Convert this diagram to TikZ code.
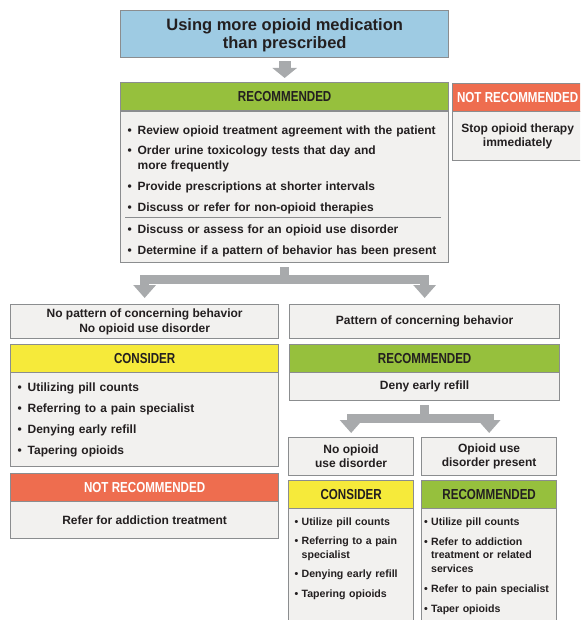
\documentclass[tikz,border=0pt]{standalone}
\usepackage{fontspec}
\setmainfont{Liberation Sans}
\newfontfamily\headfont[FakeStretch=0.8]{Liberation Sans}
\usetikzlibrary{
    arrows.meta,
    calc
}
\definecolor{titleblue}{HTML}{9ECBE3}
\definecolor{recgreen}{HTML}{96C03D}
\definecolor{notred}{HTML}{EE6D4F}
\definecolor{conyellow}{HTML}{F6EA3A}
\definecolor{bodygray}{HTML}{F2F1EF}
\definecolor{edgegray}{HTML}{8B8D8F}
\definecolor{arrowgray}{HTML}{A8AAAC}
\definecolor{ink}{HTML}{231F20}
\newcommand{\bul}[1][10pt]{\makebox[#1][l]{\textbullet}}
\newcommand{\cnt}[1][10pt]{\hspace*{#1}}
\hyphenpenalty=10000
\exhyphenpenalty=10000

\begin{document}
\begin{tikzpicture}[x=1pt, y=-1pt,
    box/.style={draw=edgegray, line width=1.3pt, anchor=north west, inner sep=0pt, text=ink},
    head/.style={box, minimum height=28pt, font=\headfont\bfseries\fontsize{14.5}{16}\selectfont},
    cond/.style={box, fill=bodygray, align=center, font=\bfseries\fontsize{12}{15}\selectfont},
    list/.style={box, fill=bodygray, align=left, inner xsep=7pt, font=\bfseries\fontsize{12}{15}\selectfont},
    smalllist/.style={list, inner ysep=9pt, font=\bfseries\fontsize{10.6}{13.5}\selectfont},
    bigarrow/.style={draw=arrowgray, line width=9pt, shorten <=4pt, -{Triangle[width=22pt,length=13pt]}}
    ]
    \useasboundingbox (0,0) rectangle (580,620);
    \clip (0,0) rectangle (580,620);

    % top of the chart
    \node[box, fill=titleblue, minimum width=328pt, minimum height=47pt, align=center,
        font=\bfseries\fontsize{16.5}{18}\selectfont] (use) at (120,10) {\rule{0pt}{15pt}Using more opioid medication\\than prescribed};
    \node[head, fill=recgreen, minimum width=328pt] (rec) at (120,82) {RECOMMENDED};
    \node[list, text width=314pt, minimum height=151pt] (recb) at (120,111) {\rule{0pt}{17pt}\bul Review opioid treatment agreement with the patient\\[5.8pt]
        \bul Order urine toxicology tests that day and\\ \cnt more frequently\\[5.8pt]
        \bul Provide prescriptions at shorter intervals\\[5.8pt]
        \bul Discuss or refer for non-opioid therapies\\[7.5pt]
        \bul Discuss or assess for an opioid use disorder\\[5.8pt]
        \bul Determine if a pattern of behavior has been present};
    \draw[edgegray, line width=1pt] ($(recb.north west)+(5,106.5)$) -- ($(recb.north east)+(-8,106.5)$);

    \node[head, fill=notred, text=white, minimum width=130pt] (nr) at (452,83) {NOT RECOMMENDED};
    \node[cond, minimum width=130pt, minimum height=49pt, font=\bfseries\fontsize{12}{14}\selectfont] (nrb) at (452,111) {Stop opioid therapy\\immediately};

    % left branch
    \node[cond, minimum width=268pt, minimum height=34pt] (np) at (10,304) {No pattern of concerning behavior\\No opioid use disorder};
    \node[head, fill=conyellow, minimum width=268pt] (con) at (10,344) {CONSIDER};
    \node[list, text width=254pt, minimum height=94pt] (conb) at (10,372) {\bul Utilizing pill counts\\[6pt]
        \bul Referring to a pain specialist\\[6pt]
        \bul Denying early refill\\[6pt]
        \bul Tapering opioids};
    \node[head, fill=notred, text=white, minimum width=268pt] (nr2) at (10,473) {NOT RECOMMENDED};
    \node[cond, minimum width=268pt, minimum height=37pt] (nr2b) at (10,501) {Refer for addiction treatment};

    % right branch
    \node[cond, minimum width=270pt, minimum height=34pt] (p) at (289,304) {Pattern of concerning behavior};
    \node[head, fill=recgreen, minimum width=270pt] (rec2) at (289,344) {RECOMMENDED};
    \node[cond, minimum width=270pt, minimum height=28pt] (deny) at (289,372) {Deny early refill};

    \node[cond, minimum width=125pt, minimum height=38pt, font=\bfseries\fontsize{12}{14}\selectfont] (noud) at (288,437) {No opioid\\use disorder};
    \node[cond, minimum width=135pt, minimum height=38pt, font=\bfseries\fontsize{12}{14}\selectfont] (oud) at (421,437) {Opioid use\\disorder present};

    \node[head, fill=conyellow, minimum width=125pt] (con3) at (288,480) {CONSIDER};
    \node[smalllist, inner xsep=6pt, text width=113pt] (con3b) at (288,508) {\bul[7pt]Utilize pill counts\\[6pt]
        \bul[7pt]Referring to a pain\\ \cnt[7pt]specialist\\[6pt]
        \bul[7pt]Denying early refill\\[6pt]
        \bul[7pt]Tapering opioids\\[40pt]\mbox{}};
    \node[head, fill=recgreen, minimum width=135pt] (rec3) at (421,480) {RECOMMENDED};
    \node[smalllist, inner xsep=2.5pt, text width=130pt] (rec3b) at (421,508) {\bul[7pt]Utilize pill counts\\[6.5pt]
        \bul[7pt]Refer to addiction\\ \cnt[7pt]treatment or related\\ \cnt[7pt]services\\[6.5pt]
        \bul[7pt]Refer to pain specialist\\[6.5pt]
        \bul[7pt]Taper opioids\\[40pt]\mbox{}};

    % arrows
    \draw[bigarrow, line width=12pt, shorten <=3pt, shorten >=4pt, -{Triangle[width=24pt,length=10pt]}] (use) -- (rec);
    \draw[bigarrow, shorten >=6pt] (recb.south) -- ++(0,16) -| (np.north);
    \draw[bigarrow, shorten >=6pt] (recb.south) -- ++(0,16) -| (p.north);
    \draw[bigarrow, shorten >=4pt] (deny.south) -- ++(0,17) -| (noud.north);
    \draw[bigarrow, shorten >=4pt] (deny.south) -- ++(0,17) -| (oud.north);
\end{tikzpicture}
\end{document}
